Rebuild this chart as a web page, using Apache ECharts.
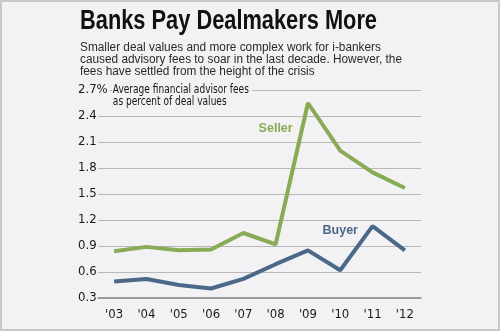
<!DOCTYPE html>
<html>
<head>
<meta charset="utf-8">
<script src="https://cdn.jsdelivr.net/npm/echarts@6/dist/echarts.min.js"></script>
<style>
html,body{margin:0;padding:0;background:#f2f2f4;}
#wrap{position:absolute;left:0;top:0;width:496px;height:327px;border:2px solid #c8c8c8;background:#f2f2f4;}
#chart{position:absolute;left:-2px;top:-2px;width:500px;height:331px;}
</style>
</head>
<body>
<div id="wrap"><div id="chart"></div></div>
<script>
const categories = ["'03","'04","'05","'06","'07","'08","'09","'10","'11","'12"];
const sellerValues = [0.84, 0.89, 0.85, 0.86, 1.05, 0.92, 2.55, 2.00, 1.75, 1.57];
const buyerValues  = [0.49, 0.52, 0.45, 0.41, 0.52, 0.69, 0.85, 0.62, 1.13, 0.85];
const yTicks = { min: 0.3, max: 2.7, interval: 0.3 };
const titleText = 'Banks Pay Dealmakers More';
const subtitleText = 'Smaller deal values and more complex work for i-bankers\ncaused advisory fees to soar in the last decade. However, the\nfees have settled from the height of the crisis';
const unitNote = 'Average financial advisor fees\nas percent of deal values';
const sellerLabel = { name: 'Seller', at: ["'08", 2.25] };
const buyerLabel = { name: 'Buyer', at: ["'10", 1.08] };

const BG = '#f2f2f4';
const SANS = "'Liberation Sans', Arial, sans-serif";
const COND = "'DejaVu Sans Condensed', sans-serif";
const GREEN = '#8aab55';
const BLUE = '#4b6888';

// horizontal squeeze factor so a regular face reads like a condensed one
const mctx = document.createElement('canvas').getContext('2d');
function squeeze(text, font, targetWidth){
  mctx.font = font;
  return targetWidth / mctx.measureText(text).width;
}
const titleScale = squeeze(titleText, "bold 27px 'Liberation Sans'", 297);
const noteScale = squeeze('Average financial advisor fees', "12px 'DejaVu Sans Condensed'", 136);
const subScale = squeeze('caused advisory fees to soar in the last decade. However, the', "12.5px 'Liberation Sans'", 322);

const chart = echarts.init(document.getElementById('chart'), null, {renderer: 'canvas'});
const grid = { left: 98, right: 79, top: 90, bottom: 33 };

function fmt(v){
  if (Math.abs(v - yTicks.max) < 1e-6) return '{top|' + v.toFixed(1) + '%}';
  return v.toFixed(1);
}

chart.setOption({
  backgroundColor: 'transparent',
  animation: false,
  grid: grid,
  xAxis: {
    type: 'category',
    data: categories,
    boundaryGap: true,
    axisLine: { lineStyle: { color: '#8a8a8a', width: 1.5 } },
    axisTick: { alignWithLabel: true, length: 5, lineStyle: { color: '#8a8a8a', width: 1 } },
    axisLabel: { fontFamily: COND, fontSize: 13, color: '#1a1a1a', margin: 10 }
  },
  yAxis: [
    {
      type: 'value', min: yTicks.min, max: yTicks.max, interval: yTicks.interval,
      z: 0,
      axisLine: { show: false }, axisTick: { show: false },
      axisLabel: { show: false },
      splitLine: { lineStyle: { color: '#b8b8b8', width: 1.2 } }
    },
    {
      type: 'value', min: yTicks.min, max: yTicks.max, interval: yTicks.interval,
      position: 'left', z: 5,
      axisLine: { show: false }, axisTick: { show: false },
      splitLine: { show: false },
      axisLabel: {
        align: 'left', margin: 20, fontFamily: COND, fontSize: 13, color: '#1a1a1a',
        formatter: fmt,
        rich: { top: { fontFamily: COND, fontSize: 13, color: '#1a1a1a', backgroundColor: BG, padding: [0, 2, 0, 0] } }
      }
    }
  ],
  graphic: [
    {
      type: 'text', left: 80, top: 8, z: 100, scaleX: titleScale, originX: 0, originY: 0,
      style: { text: titleText, fontFamily: SANS, fontWeight: 'bold', fontSize: 27, fill: '#111' }
    },
    {
      type: 'text', left: 80, top: 41, z: 100, scaleX: subScale, originX: 0, originY: 0,
      style: { text: subtitleText, fontFamily: SANS, fontSize: 12.5, lineHeight: 11.8, fill: '#2a2a2a' }
    },
    {
      type: 'text', left: 112, top: 83, z: 100, scaleX: noteScale, originX: 0, originY: 0,
      style: {
        text: unitNote, fontFamily: COND, fontSize: 12, lineHeight: 12, fill: '#151515',
        backgroundColor: BG, padding: [1, 4, 0, 1]
      }
    }
  ],
  series: [
    {
      name: 'Seller', type: 'line', data: sellerValues, yAxisIndex: 0,
      symbol: 'none', lineStyle: { color: GREEN, width: 4 }, itemStyle: { color: GREEN },
      markPoint: {
        symbol: 'circle', symbolSize: 0,
        label: { show: true, position: 'inside', formatter: sellerLabel.name, fontFamily: SANS, fontWeight: 'bold', fontSize: 12.5, color: GREEN },
        data: [{ coord: sellerLabel.at }]
      }
    },
    {
      name: 'Buyer', type: 'line', data: buyerValues, yAxisIndex: 0,
      symbol: 'none', lineStyle: { color: BLUE, width: 4 }, itemStyle: { color: BLUE },
      markPoint: {
        symbol: 'circle', symbolSize: 0,
        label: { show: true, position: 'inside', formatter: buyerLabel.name, fontFamily: SANS, fontWeight: 'bold', fontSize: 12.5, color: BLUE },
        data: [{ coord: buyerLabel.at }]
      }
    }
  ]
});
</script>
</body>
</html>
